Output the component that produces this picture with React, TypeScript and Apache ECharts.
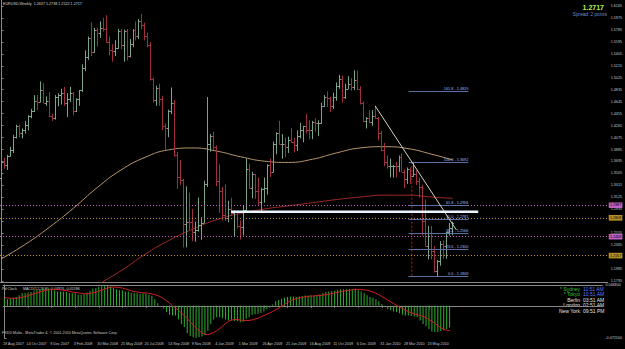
import React, { useEffect, useRef } from "react";
import * as echarts from "echarts";

// ---------------- texts ----------------
const symbolTitle = "EURUSD,Weekly  1.2637 1.2738 1.2522 1.2717";
const bidText = "1.2717";
const spreadText = "Spread: 2 points";
const indicatorName = "Pd Clock";
const macdTitle = "MACD(12,26,9) -0.04926 -0.05596";
const copyright = "FXDD Malta - MetaTrader 4, \u00a9 2001-2010 MetaQuotes Software Corp.";
const clockNames = ["* Sydney", "* Tokyo", "Berlin", "London", "New York"];
const clockTimes = ["11:51 AM", "10:51 AM", "03:51 AM", "02:51 AM", "09:51 PM"];

// ---------------- axes ----------------
const timeTickIndex = [0, 8, 16, 24, 32, 40, 48, 56, 64, 72, 80, 88, 96, 104, 112, 120, 128, 136, 144];
const timeTickLabels = [
  "19 Aug 2007", "14 Oct 2007", "9 Dec 2007", "3 Feb 2008", "30 Mar 2008", "25 May 2008",
  "20 Jul 2008", "14 Sep 2008", "9 Nov 2008", "4 Jan 2009", "1 Mar 2009", "26 Apr 2009",
  "21 Jun 2009", "16 Aug 2009", "11 Oct 2009", "6 Dec 2009", "31 Jan 2010", "28 Mar 2010", "23 May 2010",
];
const priceTicks = [
  1.6165, 1.5975, 1.5785, 1.5595, 1.5405, 1.5215, 1.5025, 1.4835, 1.4645, 1.4455, 1.4265, 1.4075,
  1.3885, 1.3695, 1.3505, 1.3315, 1.3125, 1.2935, 1.2745, 1.2555, 1.2365, 1.2175, 1.1985, 1.1795,
];
// price labels hidden behind the line-price boxes on the scale
const hiddenPriceLabels = [1.2745, 1.2175];
const macdTicks = [0.0468, -0.0725];

// ---------------- weekly OHLC (open, high, low, close) ----------------
const bars: number[][] = [
  [1.3440, 1.3700, 1.3410, 1.3690], [1.3690, 1.3750, 1.3580, 1.3640], [1.3640, 1.3800, 1.3560, 1.3780], [1.3780, 1.3930, 1.3770, 1.3880],
  [1.3880, 1.4120, 1.3830, 1.4080], [1.4080, 1.4280, 1.4060, 1.4260], [1.4260, 1.4280, 1.4080, 1.4150], [1.4150, 1.4220, 1.4060, 1.4200],
  [1.4200, 1.4340, 1.4140, 1.4280], [1.4280, 1.4430, 1.4190, 1.4420], [1.4420, 1.4530, 1.4380, 1.4500], [1.4500, 1.4750, 1.4480, 1.4650],
  [1.4650, 1.4750, 1.4510, 1.4640], [1.4640, 1.4967, 1.4630, 1.4830], [1.4830, 1.4940, 1.4620, 1.4630], [1.4630, 1.4730, 1.4580, 1.4660],
  [1.4660, 1.4800, 1.4400, 1.4420], [1.4420, 1.4450, 1.4340, 1.4380], [1.4380, 1.4750, 1.4360, 1.4720], [1.4720, 1.4780, 1.4570, 1.4750],
  [1.4750, 1.4850, 1.4600, 1.4780], [1.4780, 1.4880, 1.4580, 1.4620], [1.4620, 1.4780, 1.4400, 1.4680], [1.4680, 1.4880, 1.4640, 1.4790],
  [1.4790, 1.4800, 1.4430, 1.4500], [1.4500, 1.4700, 1.4480, 1.4690], [1.4690, 1.4830, 1.4580, 1.4830], [1.4830, 1.5240, 1.4800, 1.5180],
  [1.5180, 1.5460, 1.5130, 1.5350], [1.5350, 1.5680, 1.5310, 1.5660], [1.5660, 1.5904, 1.5370, 1.5430], [1.5430, 1.5820, 1.5420, 1.5790],
  [1.5790, 1.5820, 1.5520, 1.5730], [1.5730, 1.5920, 1.5660, 1.5810], [1.5810, 1.5980, 1.5760, 1.5800], [1.5800, 1.6019, 1.5580, 1.5600],
  [1.5600, 1.5680, 1.5380, 1.5460], [1.5460, 1.5560, 1.5280, 1.5450], [1.5450, 1.5620, 1.5370, 1.5500], [1.5500, 1.5800, 1.5480, 1.5760],
  [1.5760, 1.5800, 1.5480, 1.5550], [1.5550, 1.5790, 1.5280, 1.5770], [1.5770, 1.5800, 1.5300, 1.5370], [1.5370, 1.5640, 1.5350, 1.5560],
  [1.5560, 1.5800, 1.5510, 1.5780], [1.5780, 1.5920, 1.5620, 1.5690], [1.5690, 1.5960, 1.5640, 1.5920], [1.5920, 1.6038, 1.5800, 1.5860],
  [1.5860, 1.5900, 1.5620, 1.5690], [1.5690, 1.5740, 1.5510, 1.5540], [1.5540, 1.5590, 1.4980, 1.5000], [1.5000, 1.5030, 1.4630, 1.4670],
  [1.4670, 1.4900, 1.4580, 1.4860], [1.4860, 1.4930, 1.4580, 1.4680], [1.4680, 1.4740, 1.4190, 1.4260], [1.4260, 1.4300, 1.3880, 1.4230],
  [1.4230, 1.4520, 1.4080, 1.4500], [1.4500, 1.4870, 1.4450, 1.4630], [1.4630, 1.4670, 1.3770, 1.3800], [1.3800, 1.3850, 1.3260, 1.3450],
  [1.3450, 1.3720, 1.3320, 1.3400], [1.3400, 1.3420, 1.2330, 1.2700], [1.2700, 1.3300, 1.2330, 1.2740], [1.2740, 1.3200, 1.2610, 1.2730],
  [1.2730, 1.2940, 1.2430, 1.2570], [1.2570, 1.2740, 1.2420, 1.2600], [1.2600, 1.3120, 1.2580, 1.2690], [1.2690, 1.2810, 1.2450, 1.2710],
  [1.2710, 1.3390, 1.2710, 1.3330], [1.3330, 1.4720, 1.3290, 1.3970], [1.3970, 1.4130, 1.3850, 1.4100], [1.4100, 1.4170, 1.3880, 1.3920],
  [1.3920, 1.3950, 1.3300, 1.3380], [1.3380, 1.3650, 1.2880, 1.3220], [1.3220, 1.3290, 1.2760, 1.2850], [1.2850, 1.3330, 1.2750, 1.2800],
  [1.2800, 1.3070, 1.2730, 1.2940], [1.2940, 1.3120, 1.2830, 1.2880], [1.2880, 1.2920, 1.2510, 1.2890], [1.2890, 1.2920, 1.2630, 1.2670],
  [1.2670, 1.2760, 1.2456, 1.2660], [1.2660, 1.2990, 1.2520, 1.2930], [1.2930, 1.3740, 1.2900, 1.3580], [1.3580, 1.3660, 1.3260, 1.3280],
  [1.3280, 1.3530, 1.3110, 1.3490], [1.3490, 1.3500, 1.3100, 1.3220], [1.3220, 1.3440, 1.3000, 1.3050], [1.3050, 1.3280, 1.2890, 1.3250],
  [1.3250, 1.3440, 1.3040, 1.3280], [1.3280, 1.3650, 1.3170, 1.3640], [1.3640, 1.3740, 1.3450, 1.3530], [1.3530, 1.4010, 1.3520, 1.3980],
  [1.3980, 1.4160, 1.3810, 1.4150], [1.4150, 1.4340, 1.3960, 1.3970], [1.3970, 1.4130, 1.3740, 1.3970], [1.3970, 1.4080, 1.3760, 1.3920],
  [1.3920, 1.4090, 1.3830, 1.4030], [1.4030, 1.4220, 1.3990, 1.4000], [1.4000, 1.4070, 1.3840, 1.3950], [1.3950, 1.4190, 1.3860, 1.4100],
  [1.4100, 1.4310, 1.4060, 1.4200], [1.4200, 1.4260, 1.4000, 1.4260], [1.4260, 1.4450, 1.4140, 1.4200], [1.4200, 1.4350, 1.4050, 1.4190],
  [1.4190, 1.4340, 1.4050, 1.4330], [1.4330, 1.4380, 1.4170, 1.4300], [1.4300, 1.4350, 1.4100, 1.4310], [1.4310, 1.4630, 1.4290, 1.4570],
  [1.4570, 1.4750, 1.4560, 1.4720], [1.4720, 1.4810, 1.4560, 1.4700], [1.4700, 1.4720, 1.4480, 1.4570], [1.4570, 1.4790, 1.4530, 1.4720],
  [1.4720, 1.4950, 1.4660, 1.4900], [1.4900, 1.5070, 1.4850, 1.5010], [1.5010, 1.5060, 1.4630, 1.4720], [1.4720, 1.4930, 1.4690, 1.4850],
  [1.4850, 1.5050, 1.4840, 1.4920], [1.4920, 1.5020, 1.4820, 1.4880], [1.4880, 1.5144, 1.4830, 1.4990], [1.4990, 1.5140, 1.4830, 1.4850],
  [1.4850, 1.4890, 1.4600, 1.4620], [1.4620, 1.4650, 1.4320, 1.4340], [1.4340, 1.4400, 1.4220, 1.4390], [1.4390, 1.4510, 1.4300, 1.4320],
  [1.4320, 1.4510, 1.4260, 1.4410], [1.4410, 1.4579, 1.4370, 1.4380], [1.4380, 1.4400, 1.4030, 1.4140], [1.4140, 1.4180, 1.3860, 1.3870],
  [1.3870, 1.3990, 1.3620, 1.3680], [1.3680, 1.3790, 1.3580, 1.3620], [1.3620, 1.3740, 1.3440, 1.3620], [1.3620, 1.3640, 1.3440, 1.3630],
  [1.3630, 1.3690, 1.3440, 1.3620], [1.3620, 1.3790, 1.3530, 1.3760], [1.3760, 1.3820, 1.3530, 1.3530], [1.3530, 1.3570, 1.3270, 1.3410],
  [1.3410, 1.3600, 1.3340, 1.3580], [1.3580, 1.3600, 1.3340, 1.3460], [1.3460, 1.3690, 1.3450, 1.3500], [1.3500, 1.3550, 1.3320, 1.3380],
  [1.3380, 1.3440, 1.3120, 1.3290], [1.3290, 1.3320, 1.2520, 1.2750], [1.2750, 1.3090, 1.2340, 1.2360], [1.2360, 1.2670, 1.2140, 1.2560],
  [1.2560, 1.2670, 1.2140, 1.2270], [1.2270, 1.2350, 1.1930, 1.1960], [1.1960, 1.2130, 1.1876, 1.2110], [1.2110, 1.2430, 1.2040, 1.2390],
  [1.2390, 1.2440, 1.2150, 1.2350], [1.2350, 1.2580, 1.2150, 1.2570], [1.2570, 1.2720, 1.2520, 1.2640], [1.2637, 1.2738, 1.2522, 1.2717],
];

// ---------------- moving averages [bar index, price] ----------------
const maTan: number[][] = [
  [0, 1.215], [8, 1.238], [16, 1.265], [24, 1.295], [32, 1.328], [40, 1.356], [48, 1.376], [56, 1.388],
  [64, 1.391], [72, 1.386], [80, 1.377], [88, 1.370], [96, 1.368], [104, 1.373], [112, 1.383], [120, 1.391],
  [128, 1.393], [136, 1.390], [144, 1.381], [151, 1.372],
];
const maRed: number[][] = [
  [30, 1.168], [40, 1.196], [48, 1.222], [56, 1.244], [64, 1.262], [72, 1.277], [80, 1.287], [88, 1.294],
  [96, 1.299], [104, 1.304], [112, 1.309], [120, 1.313], [128, 1.316], [136, 1.316], [144, 1.313], [151, 1.311],
];

// ---------------- drawn objects ----------------
const trendLine: number[][] = [[125, 1.4579], [152.2, 1.2607]];
const supportLine: number[][] = [[76.8, 1.2897], [159.5, 1.2897]];
const fibRatios = ["161.8", "100.0", "61.8", "50.0", "38.2", "23.6", "0.0"];
const fibPrices = [1.4819, 1.3692, 1.2996, 1.2781, 1.2566, 1.2300, 1.1869];
const fibSpan = [136.2, 156.2];
const fibAnchorLine: number[][] = [[137.3, 1.3692], [137.3, 1.1869]];
const hLinePrices = [1.2987, 1.2808, 1.2468, 1.2167];
const bidPrice = 1.2717;

// ---------------- MACD ----------------
const macdMain = [
  0.016, 0.015, 0.016, 0.018, 0.020, 0.024, 0.028, 0.029,
  0.030, 0.031, 0.033, 0.035, 0.037, 0.038, 0.040, 0.039,
  0.038, 0.035, 0.032, 0.032, 0.032, 0.031, 0.029, 0.028,
  0.028, 0.025, 0.025, 0.026, 0.030, 0.034, 0.039, 0.040,
  0.043, 0.044, 0.045, 0.045, 0.043, 0.040, 0.037, 0.035,
  0.035, 0.032, 0.032, 0.029, 0.029, 0.028, 0.027, 0.028,
  0.027, 0.025, 0.022, 0.015, 0.006, 0.000, -0.006, -0.014,
  -0.020, -0.022, -0.022, -0.031, -0.041, -0.048, -0.061, -0.068,
  -0.071, -0.072, -0.071, -0.069, -0.066, -0.056, -0.041, -0.031,
  -0.026, -0.026, -0.028, -0.031, -0.033, -0.033, -0.034, -0.035,
  -0.037, -0.036, -0.029, -0.025, -0.020, -0.019, -0.018, -0.016,
  -0.013, -0.008, -0.004, 0.003, 0.010, 0.013, 0.016, 0.018,
  0.020, 0.021, 0.021, 0.020, 0.021, 0.022, 0.023, 0.023,
  0.024, 0.024, 0.024, 0.026, 0.029, 0.031, 0.032, 0.033,
  0.034, 0.036, 0.037, 0.037, 0.037, 0.038, 0.038, 0.038,
  0.035, 0.032, 0.028, 0.024, 0.020, 0.018, 0.015, 0.010,
  0.004, -0.002, -0.007, -0.010, -0.013, -0.014, -0.017, -0.020,
  -0.022, -0.022, -0.023, -0.024, -0.026, -0.033, -0.041, -0.046,
  -0.052, -0.058, -0.059, -0.059, -0.057, -0.055, -0.052, -0.049,
];
const macdSignal = [
  0.018, 0.018, 0.017, 0.017, 0.017, 0.018, 0.019, 0.021,
  0.023, 0.025, 0.027, 0.029, 0.031, 0.033, 0.035, 0.036,
  0.037, 0.037, 0.037, 0.036, 0.035, 0.034, 0.033, 0.031,
  0.030, 0.029, 0.028, 0.027, 0.027, 0.028, 0.029, 0.031,
  0.033, 0.035, 0.038, 0.040, 0.042, 0.042, 0.042, 0.041,
  0.040, 0.038, 0.036, 0.034, 0.032, 0.031, 0.030, 0.029,
  0.029, 0.028, 0.027, 0.025, 0.023, 0.020, 0.016, 0.011,
  0.006, 0.000, -0.005, -0.010, -0.016, -0.022, -0.029, -0.036,
  -0.043, -0.050, -0.056, -0.061, -0.064, -0.065, -0.063, -0.060,
  -0.056, -0.051, -0.046, -0.040, -0.035, -0.032, -0.031, -0.031,
  -0.032, -0.033, -0.033, -0.033, -0.032, -0.030, -0.028, -0.025,
  -0.022, -0.019, -0.016, -0.013, -0.009, -0.005, -0.001, 0.003,
  0.007, 0.011, 0.014, 0.016, 0.018, 0.019, 0.020, 0.021,
  0.022, 0.022, 0.023, 0.023, 0.024, 0.025, 0.026, 0.027,
  0.029, 0.030, 0.032, 0.033, 0.034, 0.035, 0.036, 0.037,
  0.037, 0.037, 0.036, 0.035, 0.033, 0.031, 0.028, 0.025,
  0.021, 0.017, 0.013, 0.009, 0.005, 0.001, -0.003, -0.006,
  -0.010, -0.013, -0.016, -0.018, -0.020, -0.022, -0.024, -0.027,
  -0.031, -0.035, -0.039, -0.045, -0.049, -0.053, -0.055, -0.056,
];

// ---------------- styles ----------------
const FONT = "Liberation Sans, Arial, sans-serif";
const AX = "#c8c8c8";
const FRAME = "#8a8a8a";
const UP = "#7aa58a";
const DOWN = "#a03040";
const PINK = "#c060c0";
const GOLD = "#b89028";
const hLineColors = [PINK, GOLD, PINK, GOLD];
const X_MIN = -0.5;
const X_MAX = 202.83;
const LABEL_SHIFT = -0.5;

function buildOption() {
  const xBase = { type: "value", min: X_MIN, max: X_MAX, splitLine: { show: false } };
  const hLineMarks: any[] = hLinePrices.map((p, k) => ({
    yAxis: p,
    lineStyle: { color: hLineColors[k], type: [1, 2], width: 1 },
    label: {
      show: true, position: "end", distance: 1, formatter: p.toFixed(4), color: "#000",
      backgroundColor: hLineColors[k], fontSize: 3.7, fontFamily: FONT, padding: [0.8, 1.2],
    },
  }));
  hLineMarks.push({
    yAxis: bidPrice,
    lineStyle: { color: "#c8e8f0", width: 0, opacity: 0 },
    label: {
      show: true, position: "end", distance: 1, formatter: bidPrice.toFixed(4), color: "#000",
      backgroundColor: "#d0ecf4", fontSize: 3.7, fontFamily: FONT, padding: [0.8, 1.2],
    },
  });

  const graphic: any[] = [
    { type: "text", x: 3, y: 4, style: { text: symbolTitle, fill: "#d8d8d8", fontSize: 3.7, fontFamily: FONT, verticalAlign: "middle" } },
    { type: "text", x: 604, y: 7, style: { text: bidText, fill: "#b4f050", fontSize: 7, fontWeight: "bold", fontFamily: FONT, align: "right", verticalAlign: "middle" } },
    { type: "text", x: 607, y: 14.5, style: { text: spreadText, fill: "#6f8fc8", fontSize: 4.7, fontFamily: FONT, align: "right", verticalAlign: "middle" } },
    { type: "text", x: 2, y: 289, style: { text: indicatorName, fill: "#d0d0d0", fontSize: 3.7, fontFamily: FONT, verticalAlign: "middle" } },
    { type: "text", x: 23, y: 289, style: { text: macdTitle, fill: "#d0d0d0", fontSize: 3.7, fontFamily: FONT, verticalAlign: "middle" } },
    { type: "text", x: 2, y: 333, style: { text: copyright, fill: "#c8c8c8", fontSize: 3.7, fontFamily: FONT, verticalAlign: "middle" } },
  ];
  clockNames.forEach((n, k) => {
    const y = 288.5 + k * 5.5;
    const special = k < 2;
    graphic.push({ type: "text", x: 580, y, style: { text: n, fill: special ? "#3cc03c" : "#e0e0e0", fontSize: 5, fontFamily: FONT, align: "right", verticalAlign: "middle" } });
    graphic.push({ type: "text", x: 583, y, style: { text: clockTimes[k], fill: special ? "#5a78ff" : "#e0e0e0", fontSize: 5, fontFamily: FONT, verticalAlign: "middle" } });
  });

  const priceLabelValues = priceTicks.filter((v) => hiddenPriceLabels.indexOf(v) < 0);

  return {
    animation: false,
    backgroundColor: "#000",
    graphic,
    grid: [
      { left: 0, top: 0, width: 610, height: 282 },
      { left: 0, top: 285, width: 610, height: 53 },
    ],
    xAxis: [
      { ...xBase, gridIndex: 0, axisLine: { show: true, lineStyle: { color: FRAME } }, axisTick: { show: false }, axisLabel: { show: false } },
      {
        ...xBase, gridIndex: 1, position: "bottom",
        axisLine: { show: true, lineStyle: { color: FRAME } },
        axisTick: { show: true, customValues: timeTickIndex, length: 2, lineStyle: { color: FRAME } },
        axisLabel: {
          show: true, customValues: timeTickIndex.map((i) => Math.max(X_MIN, i + LABEL_SHIFT)), align: "left", margin: 3.5,
          fontSize: 3.7, color: AX, fontFamily: FONT,
          formatter: (v: number) => {
            const target = v - LABEL_SHIFT;
            let best = 0;
            timeTickIndex.forEach((t, k) => { if (Math.abs(t - target) < Math.abs(timeTickIndex[best] - target)) best = k; });
            return timeTickLabels[best];
          },
        },
      },
      { ...xBase, gridIndex: 1, position: "top", axisLine: { show: true, lineStyle: { color: FRAME } }, axisTick: { show: false }, axisLabel: { show: false } },
    ],
    yAxis: [
      {
        type: "value", gridIndex: 0, position: "right", min: 1.17805, max: 1.62603, splitLine: { show: false },
        axisLine: { show: true, lineStyle: { color: FRAME } },
        axisTick: { show: true, customValues: priceTicks, length: 2, lineStyle: { color: FRAME } },
        axisLabel: { show: true, customValues: priceLabelValues, formatter: (v: number) => v.toFixed(4), fontSize: 3.7, color: AX, fontFamily: FONT, margin: 3 },
      },
      {
        type: "value", gridIndex: 1, position: "right", min: -0.0725, max: 0.0468, splitLine: { show: false },
        axisLine: { show: true, lineStyle: { color: FRAME } },
        axisTick: { show: true, customValues: macdTicks, length: 2, lineStyle: { color: FRAME } },
        axisLabel: { show: true, customValues: macdTicks, formatter: (v: number) => v.toFixed(6), fontSize: 3.7, color: AX, fontFamily: FONT, margin: 3 },
      },
    ],
    series: [
      {
        type: "line", xAxisIndex: 0, yAxisIndex: 0, data: maRed, smooth: true, showSymbol: false,
        lineStyle: { color: "#a02828", width: 1 }, z: 2,
      },
      {
        type: "line", xAxisIndex: 0, yAxisIndex: 0, data: maTan, smooth: true, showSymbol: false,
        lineStyle: { color: "#b8956a", width: 1 }, z: 2,
      },
      {
        type: "custom", xAxisIndex: 0, yAxisIndex: 0, clip: true, z: 3,
        data: bars.map((b, i) => [i, b[0], b[1], b[2], b[3]]),
        encode: { x: 0, y: [1, 2, 3, 4] },
        renderItem: (_p: any, api: any) => {
          const i = api.value(0);
          const o = api.value(1), h = api.value(2), l = api.value(3), c = api.value(4);
          const ph = api.coord([i, h]);
          const pl = api.coord([i, l]);
          const po = api.coord([i, o]);
          const pc = api.coord([i, c]);
          const x = Math.floor(ph[0]) + 0.5;
          const color = c >= o ? UP : DOWN;
          const oy = Math.round(po[1]) + 0.5;
          const cy = Math.round(pc[1]) + 0.5;
          return {
            type: "group",
            children: [
              { type: "line", shape: { x1: x, y1: ph[1], x2: x, y2: pl[1] }, style: { stroke: color, lineWidth: 1 } },
              { type: "line", shape: { x1: x - 1.5, y1: oy, x2: x - 0.5, y2: oy }, style: { stroke: color, lineWidth: 1 } },
              { type: "line", shape: { x1: x + 0.5, y1: cy, x2: x + 1.5, y2: cy }, style: { stroke: color, lineWidth: 1 } },
            ],
          };
        },
      },
      {
        type: "line", xAxisIndex: 0, yAxisIndex: 0, data: fibAnchorLine, showSymbol: false,
        lineStyle: { color: "#c02020", width: 1, type: [2, 2] }, z: 4,
      },
      {
        type: "custom", xAxisIndex: 0, yAxisIndex: 0, z: 5,
        data: fibPrices.map((p, k) => [fibSpan[0], fibSpan[1], p, k]),
        encode: { x: [0, 1], y: 2 },
        renderItem: (_p: any, api: any) => {
          const p1 = api.coord([api.value(0), api.value(2)]);
          const p2 = api.coord([api.value(1), api.value(2)]);
          const y = Math.round(p1[1]) + 0.5;
          const k = api.value(3);
          return {
            type: "group",
            children: [
              { type: "line", shape: { x1: p1[0], y1: y, x2: p2[0], y2: y }, style: { stroke: "#5b6fa6", lineWidth: 1 } },
              {
                type: "text", x: p2[0], y: y - 0.3,
                style: { text: fibRatios[k] + " - " + fibPrices[k].toFixed(4), fill: "#a8b8e8", fontSize: 3.8, fontFamily: FONT, align: "right", verticalAlign: "bottom" },
              },
            ],
          };
        },
      },
      {
        type: "line", xAxisIndex: 0, yAxisIndex: 0, data: trendLine, showSymbol: false,
        lineStyle: { color: "#d8cfc0", width: 1 }, z: 6,
      },
      {
        type: "line", xAxisIndex: 0, yAxisIndex: 0, data: supportLine, showSymbol: false,
        lineStyle: { color: "#eaf5ff", width: 2.5, cap: "butt" }, z: 7,
        markLine: { silent: true, symbol: ["none", "none"], animation: false, data: hLineMarks },
      },
      {
        type: "bar", xAxisIndex: 1, yAxisIndex: 1, barWidth: 1, z: 2,
        data: macdMain.map((v, i) => [i, v]),
        itemStyle: { color: "#2fb02f" },
        markLine: {
          silent: true, symbol: ["none", "none"], animation: false,
          data: [{ yAxis: 0, lineStyle: { color: "#808080", type: [1, 2], width: 1 }, label: { show: false } }],
        },
      },
      {
        type: "line", xAxisIndex: 1, yAxisIndex: 1, data: macdSignal.map((v, i) => [i, v]), showSymbol: false,
        lineStyle: { color: "#d02020", width: 1 }, z: 3,
      },
    ],
  };
}

export default function App() {
  const ref = useRef<HTMLDivElement>(null);
  useEffect(() => {
    document.body.style.margin = "0";
    document.body.style.background = "#000";
    const chart = echarts.init(ref.current!, null, { renderer: "svg" });
    chart.setOption(buildOption() as any);
    return () => chart.dispose();
  }, []);
  return (
    <div
      ref={ref}
      style={{ position: "absolute", left: 0, top: 0, width: 625, height: 349, background: "#000" }}
    />
  );
}
